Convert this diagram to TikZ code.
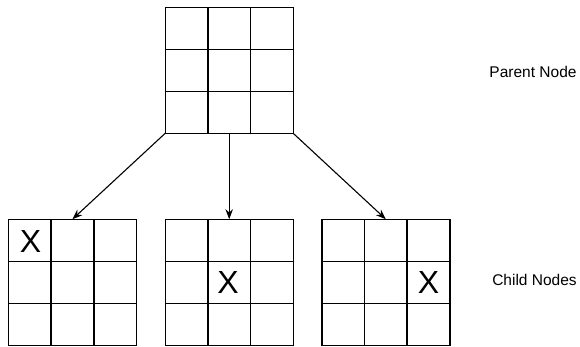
\documentclass[tikz,border=0pt]{standalone}
\usepackage{fontspec}
\setmainfont{Liberation Sans}
\usetikzlibrary{arrows.meta,calc}
\begin{document}
\begin{tikzpicture}[x=1pt,y=-1pt,
  board/.style={draw=black,line width=1.4pt,minimum width=128pt,minimum height=126pt,inner sep=0pt,outer sep=0pt},
  gridline/.style={draw=black,line width=1.4pt},
  link/.style={draw=black,line width=1.1pt,-{Stealth[length=10pt,width=7.5pt]}},
  xmark/.style={font=\fontsize{32}{32}\selectfont,inner sep=0pt},
  caption/.style={font=\fontsize{15.5}{15.5}\selectfont,inner sep=0pt}]
\useasboundingbox (0,0) rectangle (580,346);
\node[board] (p) at (229.2,70.3) {};
\node[board] (c1) at (72.5,282.2) {};
\node[board] (c2) at (229.2,282.2) {};
\node[board] (c3) at (385.8,282.2) {};
\foreach \b in {p,c1,c2,c3}{
  \foreach \f in {1/3,2/3}{
    \draw[gridline] ($(\b.north west)!\f!(\b.north east)$) -- ($(\b.south west)!\f!(\b.south east)$);
    \draw[gridline] ($(\b.north west)!\f!(\b.south west)$) -- ($(\b.north east)!\f!(\b.south east)$);
  }
}
\draw[link] (p.south west) -- (c1.north);
\draw[link] (p.south) -- (c2.north);
\draw[link] (p.south east) -- (c3.north);
\node[xmark] (x1) at (30.5,241) {X};
\node[xmark] (x2) at (228,282.2) {X};
\node[xmark] (x3) at (428.5,282.2) {X};
\node[caption] (lp) at (533,72) {Parent Node};
\node[caption] (lc) at (534.5,280) {Child Nodes};
\end{tikzpicture}
\end{document}
